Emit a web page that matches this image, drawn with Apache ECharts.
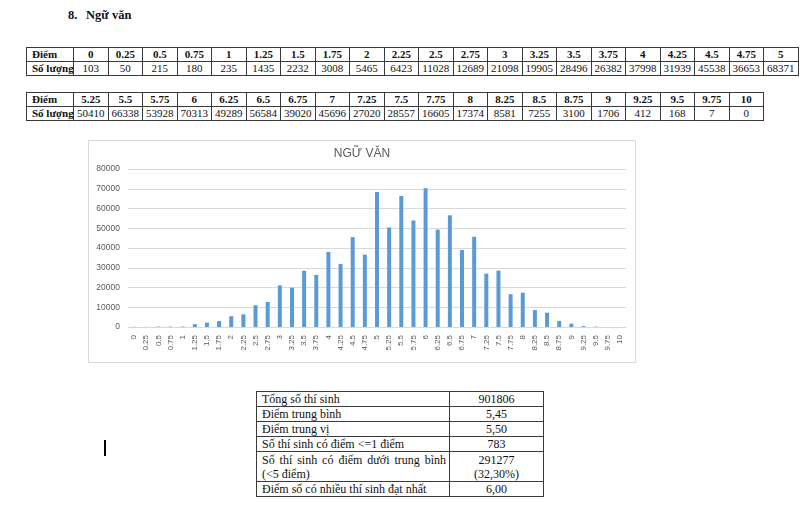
<!DOCTYPE html>
<html>
<head>
<meta charset="utf-8">
<script src="https://cdn.jsdelivr.net/npm/echarts@6/dist/echarts.min.js"></script>
<style>
html,body{margin:0;padding:0;background:#fff;width:800px;height:508px;overflow:hidden;}
.abs{position:absolute;}
.serif{font-family:"Liberation Serif","Times New Roman",serif;color:#111;}
table.score{border-collapse:collapse;table-layout:fixed;font-size:11px;}
table.score td{border:1px solid #3a3a3a;padding:0;height:13px;line-height:13px;text-align:center;overflow:hidden;white-space:nowrap;}
table.score td.h{text-align:left;padding-left:5px;font-weight:bold;}
table.score tr.r1 td{font-weight:bold;}
table.stat{border-collapse:collapse;table-layout:fixed;font-size:12px;}
table.stat td{border:1px solid #3a3a3a;padding:0;line-height:14px;vertical-align:middle;}
table.stat td.l{text-align:left;padding-left:5px;}
table.stat td.v{text-align:center;}
#chart{left:88px;top:140px;width:548px;height:223px;border:1px solid #d9d9d9;box-sizing:border-box;}
</style>
</head>
<body>
<div class="abs serif" style="left:68px;top:7px;font-size:12.5px;font-weight:bold;line-height:16px;">8.</div>
<div class="abs serif" style="left:86px;top:7px;font-size:12.5px;font-weight:bold;line-height:16px;">Ngữ văn</div>
<div id="t1" class="abs serif" style="left:26px;top:47px;"></div>
<div id="t2" class="abs serif" style="left:26px;top:92px;"></div>
<div id="chart" class="abs"></div>
<div id="t3" class="abs serif" style="left:256px;top:391px;"></div>
<div class="abs" style="left:104px;top:440px;width:2px;height:16px;background:#000;"></div>
<script>
// ---- data ----
const scores = ["0","0.25","0.5","0.75","1","1.25","1.5","1.75","2","2.25","2.5","2.75","3","3.25","3.5","3.75","4","4.25","4.5","4.75","5",
  "5.25","5.5","5.75","6","6.25","6.5","6.75","7","7.25","7.5","7.75","8","8.25","8.5","8.75","9","9.25","9.5","9.75","10"];
const counts = [103,50,215,180,235,1435,2232,3008,5465,6423,11028,12689,21098,19905,28496,26382,37998,31939,45538,36653,68371,
  50410,66338,53928,70313,49289,56584,39020,45696,27020,28557,16605,17374,8581,7255,3100,1706,412,168,7,0];
const rowHeadScore = "Điểm";
const rowHeadCount = "Số lượng";
const chartTitle = "NGỮ VĂN";
const yTicks = [0,10000,20000,30000,40000,50000,60000,70000,80000];
const statLabels = ["Tổng số thí sinh","Điểm trung bình","Điểm trung vị","Số thí sinh có điểm <=1 điểm","Số thí sinh có điểm dưới trung bình|(<5 điểm)","Điểm số có nhiều thí sinh đạt nhất"];
const statValues = ["901806","5,45","5,50","783","291277|(32,30%)","6,00"];

// ---- tables ----
function esc(s){return s.replace(/&/g,"&amp;").replace(/</g,"&lt;").replace(/>/g,"&gt;");}
function scoreTable(from,to){
  let cols='<col style="width:47px">';
  let r1='<tr class="r1"><td class="h">'+rowHeadScore+'</td>';
  let r2='<tr><td class="h">'+rowHeadCount+'</td>';
  for(let i=from;i<to;i++){
    cols+='<col style="width:34.5px">';
    r1+='<td>'+scores[i]+'</td>';
    r2+='<td>'+counts[i]+'</td>';
  }
  const w=47+34.5*(to-from);
  return '<table class="score" style="width:'+w+'px"><colgroup>'+cols+'</colgroup>'+r1+'</tr>'+r2+'</tr></table>';
}
document.getElementById('t1').innerHTML=scoreTable(0,21);
document.getElementById('t2').innerHTML=scoreTable(21,41);

(function(){
  const heights=[14,14,14,14,30,15];
  let h='<table class="stat" style="width:287px"><colgroup><col style="width:193px"><col style="width:94px"></colgroup>';
  statLabels.forEach((lab,i)=>{
    const lp=lab.split('|'), vp=statValues[i].split('|');
    let l = lp.length>1 ? '<div style="text-align:justify;text-align-last:justify;padding-right:3px">'+esc(lp[0])+'</div><div>'+esc(lp[1])+'</div>' : esc(lab);
    let v = vp.map(esc).join('<br>');
    h+='<tr style="height:'+heights[i]+'px"><td class="l">'+l+'</td><td class="v">'+v+'</td></tr>';
  });
  h+='</table>';
  document.getElementById('t3').innerHTML=h;
})();

// ---- chart ----
const chart = echarts.init(document.getElementById('chart'));
chart.setOption({
  animation:false,
  backgroundColor:'#fff',
  title:{text:chartTitle,left:'center',top:2,textStyle:{fontFamily:'Liberation Sans',fontSize:12,fontWeight:'normal',color:'#595959'}},
  grid:{left:39,right:9,top:28,bottom:35},
  xAxis:{type:'category',data:scores,
    axisLine:{lineStyle:{color:'#d9d9d9'}},axisTick:{show:false},
    axisLabel:{interval:0,rotate:90,margin:8,fontSize:8,color:'#595959',fontFamily:'Liberation Sans'}},
  yAxis:{type:'value',min:yTicks[0],max:yTicks[yTicks.length-1],interval:yTicks[1]-yTicks[0],
    axisLine:{show:false},axisTick:{show:false},
    splitLine:{lineStyle:{color:'#d9d9d9'}},
    axisLabel:{fontSize:8.5,color:'#595959',margin:8,fontFamily:'Liberation Sans',formatter:function(v){return String(v);}}},
  series:[{type:'bar',data:counts,barWidth:4,itemStyle:{color:'#5b9bd5'}}]
});
</script>
</body>
</html>
